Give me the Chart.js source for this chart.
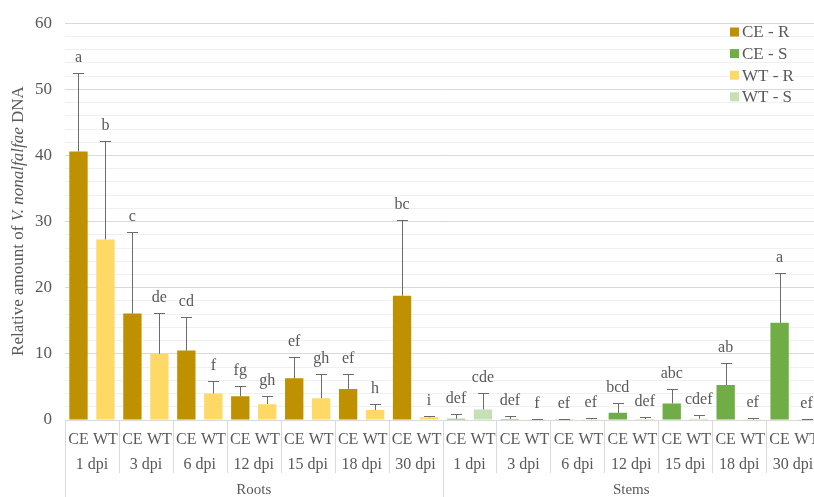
<!DOCTYPE html>
<html>
<head>
<meta charset="utf-8">
<script src="https://cdn.jsdelivr.net/npm/chart.js@4"></script>
<style>
    html, body { margin: 0; padding: 0; background: #fff; overflow: hidden; }
    canvas { display: block; }
</style>
</head>
<body>
<canvas id="dnaChart" width="821" height="497"></canvas>
<script>
const tissues = ['Roots', 'Stems'];
const timePoints = ['1 dpi', '3 dpi', '6 dpi', '12 dpi', '15 dpi', '18 dpi', '30 dpi'];
const lines = ['CE', 'WT'];

// means and upper error (SD) per time point
const ceRoots = [40.6, 16.1, 10.5, 3.6, 6.3, 4.7, 18.8];
const ceRootsErr = [11.9, 12.3, 5.0, 1.5, 3.2, 2.3, 11.4];
const wtRoots = [27.3, 10.0, 4.0, 2.4, 3.3, 1.5, 0.4];
const wtRootsErr = [14.9, 6.2, 1.9, 1.3, 3.7, 0.9, 0.25];
const ceStems = [0.2, 0.15, 0.05, 1.1, 2.5, 5.3, 14.7];
const ceStemsErr = [0.75, 0.45, 0.07, 1.5, 2.2, 3.3, 7.6];
const wtStems = [1.6, 0.03, 0.1, 0.15, 0.2, 0.05, 0.05];
const wtStemsErr = [2.5, 0.07, 0.15, 0.25, 0.5, 0.2, 0.1];

// significance letters
const ceRootsLetters = ['a', 'c', 'cd', 'fg', 'ef', 'ef', 'bc'];
const wtRootsLetters = ['b', 'de', 'f', 'gh', 'gh', 'h', 'i'];
const ceStemsLetters = ['def', 'def', 'ef', 'bcd', 'abc', 'ab', 'a'];
const wtStemsLetters = ['cde', 'f', 'ef', 'def', 'cdef', 'ef', 'ef'];

const yTicks = [0, 10, 20, 30, 40, 50, 60];

const FONT = "'Liberation Serif', 'Times New Roman', serif";
const TEXT = '#595959';

// one category per tissue / time point / line
const labels = [];
tissues.forEach(() => timePoints.forEach(() => lines.forEach(l => labels.push(l))));

function spread(values, tissueIdx, lineIdx) {
    const out = new Array(labels.length).fill(null);
    values.forEach((v, g) => { out[tissueIdx * 14 + g * 2 + lineIdx] = v; });
    return out;
}

const series = [
    { label: 'CE - R', color: '#BF9000', values: ceRoots, err: ceRootsErr, letters: ceRootsLetters, t: 0, l: 0 },
    { label: 'CE - S', color: '#70AD47', values: ceStems, err: ceStemsErr, letters: ceStemsLetters, t: 1, l: 0 },
    { label: 'WT - R', color: '#FFD966', values: wtRoots, err: wtRootsErr, letters: wtRootsLetters, t: 0, l: 1 },
    { label: 'WT - S', color: '#C5E0B4', values: wtStems, err: wtStemsErr, letters: wtStemsLetters, t: 1, l: 1 }
];

const datasets = series.map(s => ({
    label: s.label,
    data: spread(s.values, s.t, s.l),
    errors: spread(s.err, s.t, s.l),
    letters: spread(s.letters, s.t, s.l),
    backgroundColor: s.color,
    borderWidth: 0,
    categoryPercentage: 1,
    barPercentage: 0.68
}));

const errorBars = {
    id: 'errorBars',
    afterDatasetsDraw(chart) {
        const { ctx, scales: { y } } = chart;
        ctx.save();
        chart.data.datasets.forEach((ds, di) => {
            chart.getDatasetMeta(di).data.forEach((bar, i) => {
                const v = ds.data[i];
                if (v === null) return;
                const top = y.getPixelForValue(v + ds.errors[i]);
                const base = y.getPixelForValue(v);
                const bx = Math.round(bar.x);
                ctx.strokeStyle = '#6b6b6b';
                ctx.lineWidth = 1;
                ctx.beginPath();
                ctx.moveTo(bx + 0.5, base);
                ctx.lineTo(bx + 0.5, Math.round(top) + 0.5);
                ctx.moveTo(bx - 5, Math.round(top) + 0.5);
                ctx.lineTo(bx + 6, Math.round(top) + 0.5);
                ctx.stroke();

                ctx.fillStyle = TEXT;
                ctx.font = '16px ' + FONT;
                ctx.textAlign = 'center';
                ctx.textBaseline = 'alphabetic';
                ctx.fillText(ds.letters[i], bar.x, top - 11);
            });
        });
        ctx.restore();
    }
};

const decorations = {
    id: 'decorations',
    afterDraw(chart) {
        const { ctx, scales: { x }, chartArea } = chart;
        const half = (x.getPixelForValue(1) - x.getPixelForValue(0)) / 2;
        ctx.save();

        // group dividers under the axis
        ctx.strokeStyle = '#D9D9D9';
        ctx.lineWidth = 1;
        for (let i = 0; i <= labels.length; i += 2) {
            const px = Math.round(x.getPixelForValue(i) - half) + 0.5;
            const full = i % 14 === 0;
            ctx.beginPath();
            ctx.moveTo(px, chartArea.bottom);
            ctx.lineTo(px, full ? 497 : 473);
            ctx.stroke();
        }

        ctx.fillStyle = TEXT;
        ctx.textAlign = 'center';
        ctx.textBaseline = 'middle';
        ctx.font = '16px ' + FONT;
        tissues.forEach((t, ti) => {
            timePoints.forEach((tp, g) => {
                const i = ti * 14 + g * 2;
                const cx = (x.getPixelForValue(i) + x.getPixelForValue(i + 1)) / 2;
                ctx.fillText(tp, cx, 465);
            });
        });
        ctx.font = '15px ' + FONT;
        tissues.forEach((t, ti) => {
            const cx = (x.getPixelForValue(ti * 14) + x.getPixelForValue(ti * 14 + 13)) / 2;
            ctx.fillText(t, cx, 490);
        });

        // y axis title with italic species name
        const parts = [
            ['Relative amount of ', 'normal'],
            ['V. nonalfalfae', 'italic'],
            [' DNA', 'normal']
        ];
        const size = '17px ';
        let total = 0;
        parts.forEach(([s, st]) => { ctx.font = st + ' ' + size + FONT; total += ctx.measureText(s).width; });
        ctx.translate(19, 221);
        ctx.rotate(-Math.PI / 2);
        ctx.textAlign = 'left';
        let pos = -total / 2;
        parts.forEach(([s, st]) => {
            ctx.font = st + ' ' + size + FONT;
            ctx.fillText(s, pos, 0);
            pos += ctx.measureText(s).width;
        });
        ctx.setTransform(1, 0, 0, 1, 0, 0);

        // legend
        ctx.font = '17px ' + FONT;
        ctx.textAlign = 'left';
        chart.data.datasets.forEach((ds, i) => {
            const cy = 32 + i * 21.6;
            ctx.fillStyle = ds.backgroundColor;
            ctx.fillRect(730, cy - 4.5, 9, 9);
            ctx.fillStyle = TEXT;
            ctx.fillText(ds.label, 742, cy + 1);
        });
        ctx.restore();
    }
};

new Chart(document.getElementById('dnaChart'), {
    type: 'bar',
    data: { labels, datasets },
    options: {
        responsive: false,
        animation: false,
        layout: { padding: { top: 22, left: 0, right: 0, bottom: 0 } },
        plugins: {
            legend: { display: false },
            tooltip: { enabled: false }
        },
        datasets: { bar: { skipNull: true } },
        scales: {
            x: {
                grid: { display: false },
                border: { color: '#D9D9D9' },
                ticks: {
                    autoSkip: false,
                    maxRotation: 0,
                    color: TEXT,
                    padding: 2,
                    font: { family: FONT, size: 16 }
                },
                afterFit(axis) { axis.height = 77; }
            },
            y: {
                min: 0,
                max: 60,
                border: { display: false },
                grid: {
                    drawTicks: false,
                    color: ctx => (ctx.tick.value % 10 === 0 ? '#D9D9D9' : '#F0F0F0')
                },
                ticks: {
                    stepSize: 2,
                    autoSkip: false,
                    padding: 13,
                    color: TEXT,
                    font: { family: FONT, size: 17 },
                    callback: v => (yTicks.includes(v) ? v : '')
                },
                afterFit(axis) { axis.width = 65; }
            }
        }
    },
    plugins: [errorBars, decorations]
});
</script>
</body>
</html>
